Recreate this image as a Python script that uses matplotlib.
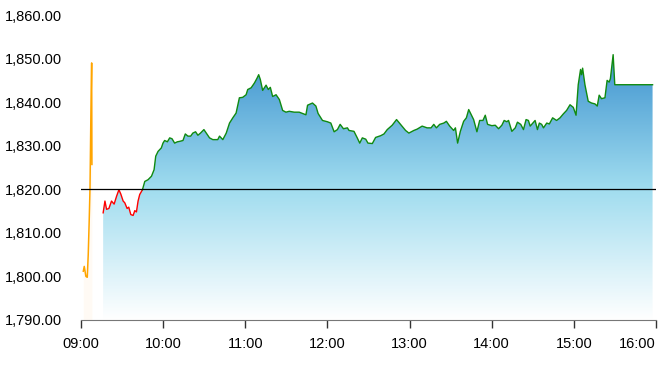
import numpy as np
import matplotlib
matplotlib.use("Agg")
import matplotlib.pyplot as plt
from matplotlib.colors import LinearSegmentedColormap
from matplotlib.ticker import FuncFormatter

plt.rcParams['font.family'] = ['Liberation Sans', 'DejaVu Sans']

# reference (previous close) level
ref_level = 1820.0

# pre-open auction, minutes after 09:00
pre_minutes = [1.7, 2.4, 3.6, 4.6, 5.3, 6.0, 6.6, 7.3, 7.8, 8.0]
pre_values = [1801.2, 1802.3, 1800.0, 1799.8, 1805.0, 1812.7, 1820.3, 1838.7, 1849.0, 1825.7]

# continuous session, minutes after 09:00
minutes = [
    16.2, 17.5, 18.7, 20.4, 22.3, 24.2, 26.0, 27.7, 29.1, 30.8, 32.0, 33.7, 34.9, 36.4, 38.1,
    39.3, 40.5, 41.7, 42.9, 44.9,
    46.6, 49.0, 51.5, 53.4, 54.6, 56.3, 58.7, 59.9, 61.1, 63.1, 64.8, 66.5, 68.4, 70.4, 72.1,
    74.5, 76.2, 78.1, 80.1, 81.7, 83.7, 85.4, 87.3, 89.8, 91.5, 93.9, 96.3, 99.9, 101.2, 103.6,
    106.1, 108.5, 110.9, 113.3, 115.7, 118.1, 120.6, 121.8, 124.3, 126.7, 128.6, 129.8, 131.0,
    132.7, 135.2, 136.8, 138.3, 140.0, 142.5, 144.9, 147.3, 149.7, 152.1, 155.8, 159.4, 164.3,
    165.5, 169.1, 171.6, 173.2, 176.4, 180.0, 182.5, 184.9, 187.3, 189.3, 191.7, 194.6, 195.8,
    199.4, 201.8, 203.6, 205.5, 208.0, 209.6, 212.8, 215.2, 218.9, 221.3, 223.7, 227.3, 230.5,
    233.4, 237.1, 239.5, 243.1, 245.5, 249.2, 252.8, 255.7, 257.7, 259.6, 262.0, 265.0, 266.9,
    269.3, 272.2, 273.5, 275.1, 277.1, 279.5, 281.5, 283.2, 285.6, 286.8, 289.2, 291.2, 293.6,
    295.3, 297.0, 300.1, 302.6, 305.0, 307.4, 309.1, 311.0, 312.3, 314.7, 317.2, 318.8, 321.2,
    323.2, 325.1, 326.8, 328.1, 330.0, 331.7, 333.4, 334.8, 336.5, 337.8, 340.2, 342.1, 344.5,
    347.4, 349.9, 352.3, 354.7, 357.2, 359.6, 361.6, 363.2, 364.9, 365.6, 366.4, 368.1, 370.5,
    372.9, 375.4, 377.1, 378.5, 380.2, 382.7, 384.3, 385.8, 386.7, 388.7, 389.9, 417.5,
]
values = [
    1814.6, 1817.3, 1815.4, 1815.6, 1817.3, 1816.6, 1818.4, 1819.9, 1818.9, 1817.3, 1816.9,
    1815.6, 1815.9, 1814.2, 1814.0, 1815.1, 1814.8, 1817.3, 1818.8, 1819.9,
    1821.8, 1822.2, 1823.0, 1824.5, 1827.6, 1828.7, 1829.5, 1830.6, 1831.2, 1830.9, 1831.8,
    1831.6, 1830.6, 1830.9, 1831.0, 1831.2, 1832.7, 1832.2, 1832.2, 1832.9, 1833.2, 1832.4,
    1832.9, 1833.7, 1832.9, 1831.8, 1831.4, 1831.4, 1832.2, 1831.4, 1832.9, 1835.2, 1836.4,
    1837.5, 1841.0, 1841.1, 1841.7, 1842.9, 1843.3, 1844.4, 1845.5, 1846.3, 1845.2, 1842.7,
    1843.9, 1842.9, 1843.4, 1841.3, 1841.7, 1840.6, 1838.1, 1837.7, 1837.9, 1837.7, 1837.7,
    1837.1, 1839.3, 1839.8, 1839.1, 1837.4, 1835.8, 1835.5, 1835.2, 1833.2, 1833.7, 1834.9,
    1833.9, 1834.1, 1833.5, 1833.3, 1831.8, 1830.6, 1831.8, 1831.5, 1830.6, 1830.5, 1831.9,
    1832.3, 1832.7, 1833.7, 1834.7, 1836.0, 1834.9, 1833.5, 1832.9, 1833.5, 1833.8, 1834.5,
    1834.1, 1834.1, 1834.9, 1834.1, 1834.9, 1835.2, 1835.6, 1834.5, 1833.5, 1834.1, 1830.6,
    1833.3, 1835.6, 1836.4, 1838.3, 1836.8, 1836.0, 1833.2, 1835.8, 1835.8, 1837.0, 1834.9,
    1834.6, 1834.7, 1833.9, 1834.7, 1835.8, 1835.5, 1835.8, 1833.3, 1834.1, 1835.4, 1834.9,
    1833.7, 1836.0, 1835.8, 1834.5, 1835.2, 1835.8, 1833.7, 1835.2, 1834.9, 1834.1, 1835.2,
    1835.0, 1836.4, 1835.8, 1836.4, 1837.3, 1838.1, 1839.4, 1838.8, 1837.0, 1844.0, 1847.5,
    1846.3, 1847.8, 1844.0, 1840.2, 1839.8, 1839.6, 1839.1, 1841.6, 1840.8, 1841.0, 1845.0,
    1844.6, 1845.4, 1850.9, 1844.0, 1844.0,
]

tick_minutes = [0, 60, 120, 180, 240, 300, 360, 420]
tick_labels = ['09:00', '10:00', '11:00', '12:00', '13:00', '14:00', '15:00', '16:00']

fig = plt.figure(figsize=(6.67, 3.66), dpi=100)
ax = fig.add_axes([0.1214, 0.1257, 0.8621, 0.8333])
ax.set_xlim(0, 420)
ax.set_ylim(1790, 1860)

x = np.array(minutes)
y = np.array(values)

# gradient fill under the session line
fill = ax.fill_between(x, y, 1790, facecolor='none', edgecolor='none')
cmap = LinearSegmentedColormap.from_list(
    'blues', [(0.0, '#ffffff'), (0.5, '#9fdcef'), (1.0, '#3f93cf')])
grad = np.linspace(1, 0, 256).reshape(-1, 1)
im = ax.imshow(grad, extent=[x.min(), x.max(), 1790, y.max()], aspect='auto',
               cmap=cmap, origin='upper', zorder=1)
im.set_clip_path(fill.get_paths()[0], transform=ax.transData)

# faint fill under the pre-open line
ax.fill_between(pre_minutes, pre_values, 1790, color='#ffb347', alpha=0.06, lw=0)
ax.plot(pre_minutes, pre_values, color='#ffa500', lw=1.1, zorder=3)

# red below the reference, green above
k = int(np.argmax(y >= ref_level)) - 1
ax.plot(x[:k + 1], y[:k + 1], color='#ff0000', lw=1.0, zorder=3)
ax.plot(x[k:], y[k:], color='#108a10', lw=1.0, zorder=3)

ax.axhline(ref_level, color='black', lw=0.9, zorder=4)

for side in ['top', 'right', 'left']:
    ax.spines[side].set_visible(False)
ax.spines['bottom'].set_color('#777777')

ax.set_xticks(tick_minutes)
ax.set_xticklabels(tick_labels)
# last label sits inside the figure, aligned to its tick's right
ax.get_xticklabels()[-1].set_horizontalalignment('right')
ax.set_yticks(np.arange(1790, 1861, 10))
ax.yaxis.set_major_formatter(FuncFormatter(lambda v, p: f'{v:,.2f}'))
ax.tick_params(axis='y', length=0, pad=13.5, labelsize=10.5, colors='black')
ax.tick_params(axis='x', length=6, width=1, color='#333333', pad=6, labelsize=10.5)

fig.savefig('out.png', dpi=100)
